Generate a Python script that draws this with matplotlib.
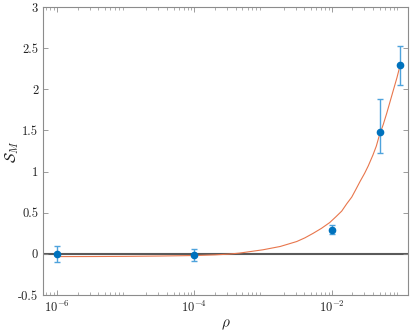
import numpy as np
import matplotlib
matplotlib.use("Agg")
from matplotlib import pyplot as plt
from matplotlib.ticker import LogLocator, LogFormatterMathtext, NullFormatter

# measured points
rho = [1e-6, 1e-4, 1e-2, 5e-2, 1e-1]
s_m = [0.0, -0.016, 0.29, 1.48, 2.29]
err_lo = [0.10, 0.07, 0.05, 0.25, 0.24]
err_hi = [0.09, 0.08, 0.06, 0.40, 0.24]

# fitted curve (log10 rho, S_M)
fit_logx = [-6.0, -5.5, -5.0, -4.5, -4.0, -3.7, -3.5, -3.34, -3.17, -3.0, -2.75,
            -2.51, -2.39, -2.27, -2.15, -2.03, -1.94, -1.854, -1.78, -1.708, -1.65,
            -1.587, -1.52, -1.467, -1.40, -1.35, -1.306, -1.25, -1.198, -1.15,
            -1.102, -1.05, -1.004]
fit_y = [-0.033, -0.032, -0.03, -0.026, -0.02, -0.012, -0.003, 0.01, 0.03, 0.05, 0.09,
         0.15, 0.195, 0.25, 0.31, 0.38, 0.45, 0.52, 0.61, 0.69, 0.78,
         0.88, 0.98, 1.07, 1.20, 1.31, 1.44, 1.57, 1.71, 1.85,
         1.99, 2.14, 2.29]

yticks = [-0.5, 0, 0.5, 1, 1.5, 2, 2.5, 3]
ytick_labels = ["-0.5", "0", "0.5", "1", "1.5", "2", "2.5", "3"]

plt.rcParams['font.family'] = 'serif'
plt.rcParams['font.serif'] = ['cmr10', 'DejaVu Serif']
plt.rcParams['mathtext.fontset'] = 'cm'
plt.rcParams['axes.formatter.use_mathtext'] = True

fig = plt.figure(figsize=(4.12, 3.33), dpi=100)
ax = fig.add_axes([0.1044, 0.114, 0.886, 0.865])

ax.axhline(0, color='#5a5a5a', lw=1.5, zorder=1)
ax.plot(10 ** np.array(fit_logx), fit_y, color='#e8764c', lw=0.8, zorder=2)
ax.errorbar(rho, s_m, yerr=[err_lo, err_hi], fmt='none', ecolor='#4ea3dc',
            elinewidth=1.0, capsize=2.5, capthick=1.0, zorder=3)
ax.plot(rho, s_m, 'o', color='#0072bd', ms=4.5, zorder=4)

ax.set_xscale('log')
ax.set_xlim(6.25e-7, 0.1294)
ax.set_ylim(-0.5, 3)
ax.set_xticks([1e-6, 1e-4, 1e-2])
ax.xaxis.set_major_formatter(LogFormatterMathtext())
ax.xaxis.set_minor_locator(LogLocator(base=10, subs=np.arange(2, 10), numticks=20))
ax.xaxis.set_minor_formatter(NullFormatter())
ax.set_yticks(yticks)
ax.set_yticklabels(ytick_labels)

for sp in ax.spines.values():
    sp.set_color('#8c8c8c')
    sp.set_linewidth(0.8)
ax.tick_params(which='both', direction='in', top=True, right=True,
               colors='#8c8c8c', labelcolor='#222222', labelsize=9)
ax.tick_params(which='major', length=3.5, width=0.6)
ax.tick_params(which='minor', length=2, width=0.5)

ax.set_xlabel(r'$\rho$', fontsize=11, color='#222222')
ax.set_ylabel(r'$\mathcal{S}_M$', fontsize=11, color='#222222')
ax.yaxis.set_label_coords(-0.06, 0.5)
ax.xaxis.set_label_coords(0.5, -0.08)

fig.savefig("out.png", dpi=100)
